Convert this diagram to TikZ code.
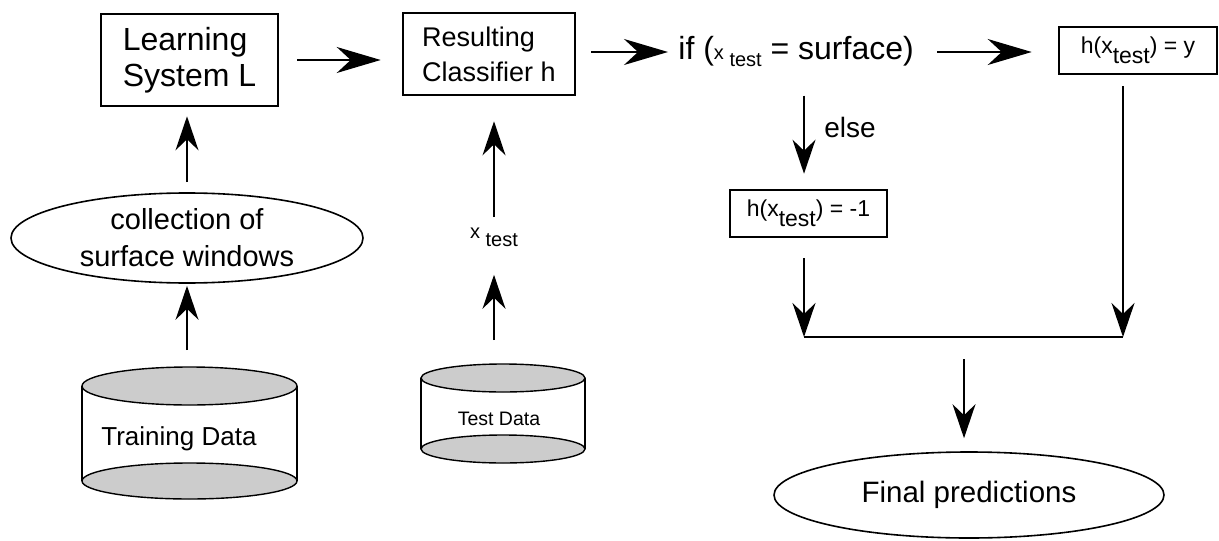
\documentclass[tikz,border=0pt]{standalone}
\usepackage{fontspec}
\setmainfont{Liberation Sans}
\usetikzlibrary{arrows.meta,shapes.geometric}

\tikzset{
    box/.style = {draw, line width=1.3pt, align=left, inner sep=0pt},
    oval/.style = {draw, ellipse, line width=0.8pt, align=center, inner sep=0pt},
    lbl/.style = {inner sep=0pt},
    arr/.style = {line width=0.8pt, -{Stealth[length=17pt, width=11.5pt, inset=5.5pt]}},
    bigarr/.style = {line width=0.8pt, -{Stealth[length=22pt, width=13pt, inset=7pt]}},
    dbase/.style = {draw, line width=0.7pt, fill=gray!40},
}

\begin{document}
\begin{tikzpicture}[x=0.5pt, y=-0.5pt]
    \useasboundingbox (0,0) rectangle (1219,540);

    % training side
    \node[box, minimum width=88.5pt, minimum height=46pt, font=\fontsize{16}{18}\selectfont] (learn) at (189.5,60) {Learning\\System L};
    \node[oval, minimum width=176pt, minimum height=45pt, font=\fontsize{14.5}{18.5}\selectfont] (coll) at (187,238) {collection of\\surface windows};
    \fill[white] (82,386) rectangle (297,481);
    \draw[line width=0.7pt] (82,386) -- (82,481) (297,386) -- (297,481);
    \draw[dbase] (189.5,481) ellipse [x radius=107.5, y radius=18];
    \draw[dbase] (189.5,386) ellipse [x radius=107.5, y radius=19];
    \node[lbl, anchor=base west, font=\fontsize{13}{15}\selectfont] (train) at (101,445) {Training Data};
    \coordinate (traintop) at (187,367);

    % test side
    \node[box, minimum width=86pt, minimum height=41pt, font=\fontsize{13.5}{17.5}\selectfont] (res) at (489,54) {Resulting\\Classifier h};
    \node[lbl, font=\fontsize{10}{12}\selectfont] (xtest) at (494,237) {x \raisebox{-4pt}{test}};
    \fill[white] (421,378) rectangle (585,449);
    \draw[line width=0.7pt] (421,378) -- (421,449) (585,378) -- (585,449);
    \draw[dbase] (503,449) ellipse [x radius=82, y radius=14];
    \draw[dbase] (503,378) ellipse [x radius=82, y radius=14];
    \node[lbl, font=\fontsize{9.75}{12}\selectfont] (test) at (499,419) {Test Data};
    \coordinate (testtop) at (494,364);

    % decision
    \node[lbl, anchor=base west, font=\fontsize{16}{18}\selectfont] (cond) at (678,60)
        {if ({\fontsize{10}{12}\selectfont x \raisebox{-3.5pt}{test}} = surface)};
    \node[box, minimum width=79pt, minimum height=23.5pt, font=\fontsize{11.5}{14}\selectfont] (hpos) at (1138,50.5) {h(x\raisebox{-5pt}{test}) = y};
    \node[box, minimum width=78.5pt, minimum height=23.5pt, font=\fontsize{11.5}{14}\selectfont] (hneg) at (808.5,213.5) {h(x\raisebox{-5pt}{test}) = -1};
    \node[lbl, anchor=base west, font=\fontsize{14}{16}\selectfont] (else) at (824,137) {else};
    \node[oval, minimum width=195pt, minimum height=43pt, font=\fontsize{14.75}{17}\selectfont] (final) at (969,495) {Final predictions};

    \coordinate (jl) at (804,337);
    \coordinate (jr) at (1123,337);
    \coordinate (jm) at (964,337);

    % arrows
    \draw[bigarr, shorten <=9pt, shorten >=10.5pt] (learn.east) -- (learn.east -| res.west);
    \draw[bigarr, shorten <=7.5pt, shorten >=5pt] (res.east |- cond.west) -- (cond.west);
    \draw[bigarr, shorten <=11.5pt, shorten >=13pt] (cond.east) -- (cond.east -| hpos.west);
    \draw[arr, shorten <=5pt, shorten >=4.5pt] (coll.north) -- (coll.north |- learn.south);
    \draw[arr, shorten <=8.5pt, shorten >=1pt] (traintop) -- (coll.south);
    \draw[arr, shorten <=5pt, shorten >=12.5pt] (xtest.north) -- (xtest.north |- res.south);
    \draw[arr, shorten <=12pt, shorten >=14pt] (testtop) -- (xtest.south);
    \draw[arr, shorten <=14pt, shorten >=7.5pt] (cond.south -| jl) -- (hneg.north -| jl);
    \draw[arr, shorten <=10pt] (hneg.south -| jl) -- (jl);
    \draw[arr, shorten <=5.5pt] (hpos.south -| jr) -- (jr);
    \draw[line width=0.8pt] (jl) -- (jr);
    \draw[arr, shorten <=11pt, shorten >=6.5pt] (jm) -- (jm |- final.north);
\end{tikzpicture}
\end{document}
